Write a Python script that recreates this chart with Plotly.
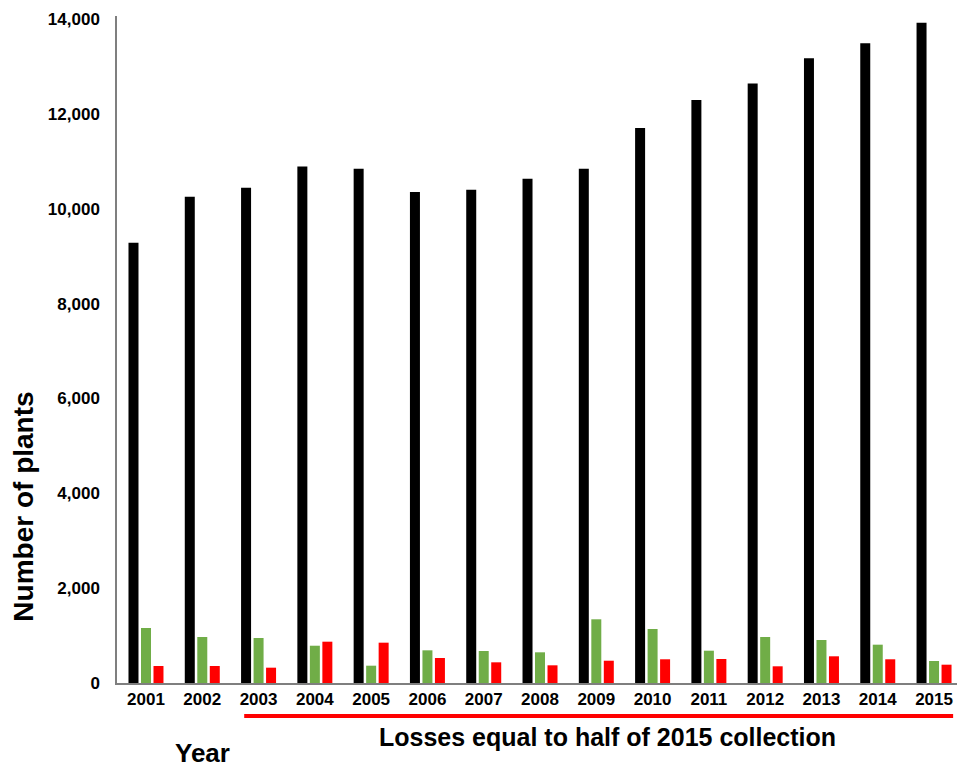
import plotly.graph_objects as go

years = [str(y) for y in range(2001, 2016)]
total_plants = [9280, 10250, 10440, 10890, 10840, 10350, 10400, 10630, 10840,
                11700, 12290, 12640, 13170, 13490, 13920]
green_vals = [1160, 970, 949, 786, 365, 689, 675, 647, 1343, 1139, 681, 970, 907, 808, 464]
red_vals = [358, 358, 323, 871, 850, 527, 436, 373, 470, 500, 506, 352, 563, 500, 386]
y_ticks = [0, 2000, 4000, 6000, 8000, 10000, 12000, 14000]
y_tick_text = ["0", "2,000", "4,000", "6,000", "8,000", "10,000", "12,000", "14,000"]

FONT = "Arial, Liberation Sans, sans-serif"

fig = go.Figure()
fig.add_trace(go.Bar(x=years, y=total_plants, marker_color="black", marker_line_width=0, name="Total"))
fig.add_trace(go.Bar(x=years, y=green_vals, marker_color="#70AD47", marker_line_width=0, name="Green"))
fig.add_trace(go.Bar(x=years, y=red_vals, marker_color="#FF0000", marker_line_width=0, name="Red"))

fig.update_layout(
    width=957, height=757,
    margin=dict(l=109, r=0, t=8, b=82),
    paper_bgcolor="white", plot_bgcolor="white",
    barmode="group", bargap=0.334, bargroupgap=0.2,
    showlegend=False,
    font=dict(family=FONT, color="black"),
)
fig.update_xaxes(
    type="category", range=[-0.515, 14.55],
    showline=True, linecolor="#7f7f7f", linewidth=1.5,
    showgrid=False, ticks="", zeroline=False,
    tickfont=dict(family=FONT, size=17, color="black", weight="bold"),
    ticklabelstandoff=0,
)
fig.update_yaxes(
    range=[0, 14063], tickvals=y_ticks, ticktext=y_tick_text,
    showline=True, linecolor="#7f7f7f", linewidth=1.5,
    showgrid=False, ticks="", zeroline=False,
    tickfont=dict(family=FONT, size=17, color="black", weight="bold"),
    ticklabelstandoff=12,
)

fig.add_shape(type="line", xref="paper", yref="paper",
              x0=0.15, x1=0.986, y0=-0.0495, y1=-0.0495,
              line=dict(color="#FF0000", width=4))

fig.add_annotation(text="<b>Losses equal to half of 2015 collection</b>",
                   xref="paper", yref="paper", x=0.579, y=-0.081,
                   xanchor="center", yanchor="middle",
                   showarrow=False, font=dict(family=FONT, size=25, color="black"))
fig.add_annotation(text="<b>Year</b>",
                   xref="paper", yref="paper", x=0.101, y=-0.105,
                   xanchor="center", yanchor="middle",
                   showarrow=False, font=dict(family=FONT, size=26, color="black"))
fig.add_annotation(text="<b>Number of plants</b>", textangle=-90,
                   xref="paper", yref="paper", x=-0.110, y=0.264,
                   xanchor="center", yanchor="middle",
                   showarrow=False, font=dict(family=FONT, size=28, color="black"))

fig.write_html("out.html")
